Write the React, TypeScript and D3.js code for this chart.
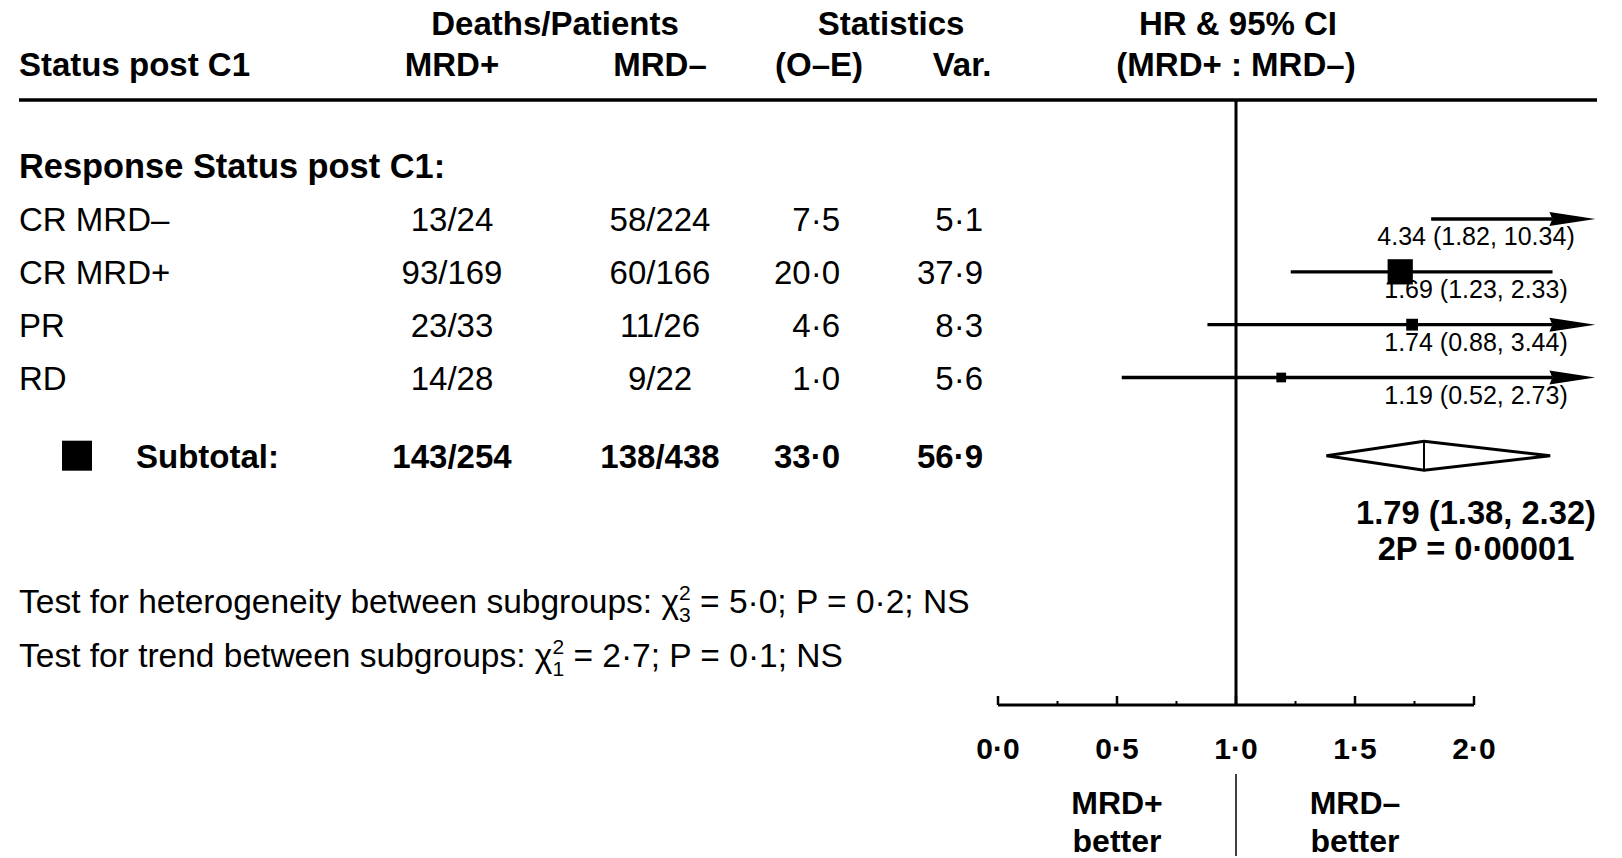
import * as d3 from 'd3';
import React from 'react';

// table rows
const rowLabels = ['CR MRD\u2013', 'CR MRD+', 'PR', 'RD'];
const mrdPos = ['13/24', '93/169', '23/33', '14/28'];
const mrdNeg = ['58/224', '60/166', '11/26', '9/22'];
const oMinusE = [7.5, 20.0, 4.6, 1.0];
const variance = [5.1, 37.9, 8.3, 5.6];
const hr = [4.34, 1.69, 1.74, 1.19];
const ciLow = [1.82, 1.23, 0.88, 0.52];
const ciHigh = [10.34, 2.33, 3.44, 2.73];

// subtotal
const totalPos = '143/254';
const totalNeg = '138/438';
const totalOE = 33.0;
const totalVar = 56.9;
const totalHr = [1.79, 1.38, 2.32];
const totalP = '0\u00B700001';

const majorTicks = [0, 0.5, 1, 1.5, 2];
const minorTicks = [0.25, 0.75, 1.25, 1.75];

const FONT = '"Liberation Sans", Arial, Helvetica, sans-serif';
const dot = (v: number) => v.toFixed(1).replace('.', '\u00B7');

function T({
  x,
  y,
  size,
  anchor = 'start',
  bold = false,
  children,
}: {
  x: number;
  y: number;
  size: number;
  anchor?: 'start' | 'middle' | 'end';
  bold?: boolean;
  children: React.ReactNode;
}) {
  return (
    <text x={x} y={y} fontSize={size} textAnchor={anchor} fontWeight={bold ? 700 : 400}>
      {children}
    </text>
  );
}

export default function App() {
  const width = 1622;
  const height = 858;

  const x = d3.scaleLinear().domain([0, 2]).range([998, 1474]);
  const xClip = 2.51; // right edge of plot, arrows beyond
  const y = d3.scaleLinear().domain([0, 3]).range([219, 377.5]);
  const yTotal = y(4.48);
  const axisY = 705;
  const boxSize = (v: number) => 4.1 * Math.sqrt(v);

  // table columns
  const colPos = 452;
  const colNeg = 660;
  const colOE = 840;
  const colVar = 983;

  const arrow = (yy: number) => {
    const tip = x(xClip);
    return `M${tip},${yy} L${tip - 46},${yy - 7} L${tip - 43},${yy} L${tip - 46},${yy + 7} Z`;
  };

  return (
    <svg
      width={width}
      height={height}
      style={{ position: 'absolute', left: 0, top: 0, background: '#fff' }}
      fontFamily={FONT}
      fill="#000"
    >
      {/* header */}
      <T x={555} y={35} size={33} anchor="middle" bold>Deaths/Patients</T>
      <T x={891} y={35} size={33} anchor="middle" bold>Statistics</T>
      <T x={1238} y={35} size={33} anchor="middle" bold>HR &amp; 95% CI</T>
      <T x={19} y={76} size={33} bold>Status post C1</T>
      <T x={colPos} y={76} size={33} anchor="middle" bold>MRD+</T>
      <T x={colNeg} y={76} size={33} anchor="middle" bold>MRD{'\u2013'}</T>
      <T x={819} y={76} size={33} anchor="middle" bold>(O{'\u2013'}E)</T>
      <T x={962} y={76} size={33} anchor="middle" bold>Var.</T>
      <T x={1236} y={76} size={33} anchor="middle" bold>(MRD+ : MRD{'\u2013'})</T>
      <line x1={19} x2={1597} y1={100} y2={100} stroke="#000" strokeWidth={3.5} />

      <T x={19} y={y(-1) + 12} size={34.4} bold>Response Status post C1:</T>

      {/* rows */}
      {rowLabels.map((lab, i) => (
        <g key={lab}>
          <T x={19} y={y(i) + 12} size={33}>{lab}</T>
          <T x={colPos} y={y(i) + 12} size={33} anchor="middle">{mrdPos[i]}</T>
          <T x={colNeg} y={y(i) + 12} size={33} anchor="middle">{mrdNeg[i]}</T>
          <T x={colOE} y={y(i) + 12} size={33} anchor="end">{dot(oMinusE[i])}</T>
          <T x={colVar} y={y(i) + 12} size={33} anchor="end">{dot(variance[i])}</T>
        </g>
      ))}

      {/* subtotal row */}
      <rect x={62} y={yTotal - 15} width={30} height={30} />
      <T x={136} y={yTotal + 12} size={33} bold>Subtotal:</T>
      <T x={colPos} y={yTotal + 12} size={33} anchor="middle" bold>{totalPos}</T>
      <T x={colNeg} y={yTotal + 12} size={33} anchor="middle" bold>{totalNeg}</T>
      <T x={colOE} y={yTotal + 12} size={33} anchor="end" bold>{dot(totalOE)}</T>
      <T x={colVar} y={yTotal + 12} size={33} anchor="end" bold>{dot(totalVar)}</T>

      {/* heterogeneity tests */}
      <T x={19} y={613} size={33.5}>
        Test for heterogeneity between subgroups: {'\u03C7'}
        <tspan dy={-13} fontSize={21}>2</tspan>
        <tspan dx={-11.7} dy={22} fontSize={21}>3</tspan>
        <tspan dy={-9}> = 5{'\u00B7'}0; P = 0{'\u00B7'}2; NS</tspan>
      </T>
      <T x={19} y={667} size={33.5}>
        Test for trend between subgroups: {'\u03C7'}
        <tspan dy={-13} fontSize={21}>2</tspan>
        <tspan dx={-11.7} dy={22} fontSize={21}>1</tspan>
        <tspan dy={-9}> = 2{'\u00B7'}7; P = 0{'\u00B7'}1; NS</tspan>
      </T>

      {/* reference line at HR = 1 */}
      <line x1={x(1)} x2={x(1)} y1={100} y2={axisY} stroke="#000" strokeWidth={3} />

      {/* forest rows */}
      {rowLabels.map((lab, i) => {
        const yy = y(i);
        const lo = x(ciLow[i]);
        const over = ciHigh[i] > xClip;
        const hi = over ? x(xClip) - 43 : x(ciHigh[i]);
        const s = boxSize(variance[i]);
        return (
          <g key={'f' + lab}>
            <line x1={lo} x2={hi} y1={yy} y2={yy} stroke="#000" strokeWidth={3.3} />
            {over && <path d={arrow(yy)} />}
            {hr[i] <= xClip && <rect x={x(hr[i]) - s / 2} y={yy - s / 2} width={s} height={s} />}
            <T x={x(2) + 2} y={yy + 26} size={25} anchor="middle">
              {hr[i].toFixed(2)} ({ciLow[i].toFixed(2)}, {ciHigh[i].toFixed(2)})
            </T>
          </g>
        );
      })}

      {/* subtotal diamond */}
      <path
        d={`M${x(totalHr[1])},${yTotal} L${x(totalHr[0])},${yTotal - 14.5} L${x(totalHr[2])},${yTotal} L${x(totalHr[0])},${yTotal + 14.5} Z`}
        fill="#fff"
        stroke="#000"
        strokeWidth={3}
        strokeLinejoin="miter"
      />
      <line x1={x(totalHr[0])} x2={x(totalHr[0])} y1={yTotal - 14.5} y2={yTotal + 14.5} stroke="#000" strokeWidth={2} />
      <T x={x(2) + 2} y={524} size={32.7} anchor="middle" bold>
        {totalHr[0].toFixed(2)} ({totalHr[1].toFixed(2)}, {totalHr[2].toFixed(2)})
      </T>
      <T x={x(2) + 2} y={560} size={32.7} anchor="middle" bold>2P = {totalP}</T>

      {/* axis */}
      <line x1={x(0)} x2={x(2)} y1={axisY} y2={axisY} stroke="#000" strokeWidth={3} />
      {majorTicks.map(t => (
        <g key={'M' + t}>
          <line x1={x(t)} x2={x(t)} y1={axisY} y2={axisY - 9} stroke="#000" strokeWidth={2.5} />
          <T x={x(t)} y={759} size={30} anchor="middle" bold>{dot(t)}</T>
        </g>
      ))}
      {minorTicks.map(t => (
        <line key={'m' + t} x1={x(t)} x2={x(t)} y1={axisY} y2={axisY - 4} stroke="#000" strokeWidth={2} />
      ))}

      {/* favour labels */}
      <line x1={x(1)} x2={x(1)} y1={774} y2={856} stroke="#000" strokeWidth={1.5} />
      <T x={x(0.5)} y={814} size={32} anchor="middle" bold>MRD+</T>
      <T x={x(0.5)} y={852} size={32} anchor="middle" bold>better</T>
      <T x={x(1.5)} y={814} size={32} anchor="middle" bold>MRD{'\u2013'}</T>
      <T x={x(1.5)} y={852} size={32} anchor="middle" bold>better</T>
    </svg>
  );
}
